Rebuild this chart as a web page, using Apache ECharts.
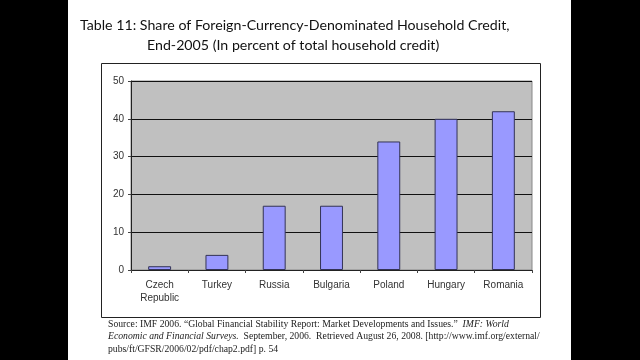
<!DOCTYPE html>
<html><head><meta charset="utf-8">
<script src="https://cdn.jsdelivr.net/npm/echarts@6/dist/echarts.min.js"></script>
<style>html,body{margin:0;padding:0;background:#000;}#c{width:640px;height:360px;}</style>
</head><body><div id="c"></div>
<script>
const categories = ['Czech\nRepublic', 'Turkey', 'Russia', 'Bulgaria', 'Poland', 'Hungary', 'Romania'];
const values = [1, 4, 17, 17, 34, 40, 42];
const yTicks = [0, 10, 20, 30, 40, 50];

const chart = echarts.init(document.getElementById('c'), null, {renderer: 'canvas'});
chart.setOption({
  backgroundColor: '#000',
  animation: false,
  graphic: [
    {type: 'rect', z: -10, shape: {x: 68, y: 0, width: 503, height: 360}, style: {fill: '#fff'}},
    {type: 'rect', z: -5, shape: {x: 101.5, y: 63.5, width: 439, height: 254}, style: {fill: '#fff', stroke: '#222', lineWidth: 1}},
    {type: 'text', left: 80, top: 18, style: {text: 'Table 11: Share of Foreign-Currency-Denominated Household Credit,', font: '14.2px Lato', fill: '#111'}},
    {type: 'text', left: 147, top: 38, style: {text: 'End-2005 (In percent of total household credit)', font: '14.2px Lato', fill: '#111'}},
    {type: 'text', left: 108, top: 319, style: {
      rich: {
        n: {fontFamily: 'Liberation Serif', fontSize: 9.7, fill: '#222', lineHeight: 12.5},
        i: {fontFamily: 'Liberation Serif', fontSize: 9.7, fontStyle: 'italic', fill: '#222', lineHeight: 12.5}
      },
      text: '{n|Source: IMF 2006. \u201cGlobal Financial Stability Report: Market Developments and Issues.\u201d  }{i|IMF: World}\n{i|Economic and Financial Surveys.}{n|  September, 2006.  Retrieved August 26, 2008. [http://www.imf.org/external/}\n{n|pubs/ft/GFSR/2006/02/pdf/chap2.pdf] p. 54}'
    }}
  ],
  grid: {left: 131, top: 81, right: 108, bottom: 90, show: true, backgroundColor: '#c0c0c0', borderColor: '#888', borderWidth: 1},
  xAxis: {
    type: 'category', data: categories,
    axisLine: {lineStyle: {color: '#222', width: 1}},
    axisTick: {show: true, length: 3, lineStyle: {color: '#444'}},
    axisLabel: {fontFamily: 'Liberation Sans', fontSize: 10, color: '#333', margin: 9, lineHeight: 13}
  },
  yAxis: {
    type: 'value', min: yTicks[0], max: yTicks[yTicks.length - 1], interval: 10,
    axisLine: {show: true, lineStyle: {color: '#222', width: 1}},
    axisTick: {show: true, length: 3, lineStyle: {color: '#444'}},
    axisLabel: {fontFamily: 'Liberation Sans', fontSize: 10, color: '#333', margin: 7},
    splitLine: {lineStyle: {color: '#111', width: 1}}
  },
  series: [{
    type: 'bar', data: values, barWidth: '40%',
    itemStyle: {color: '#9999ff', borderColor: '#333355', borderWidth: 1}
  }]
});
</script></body></html>
